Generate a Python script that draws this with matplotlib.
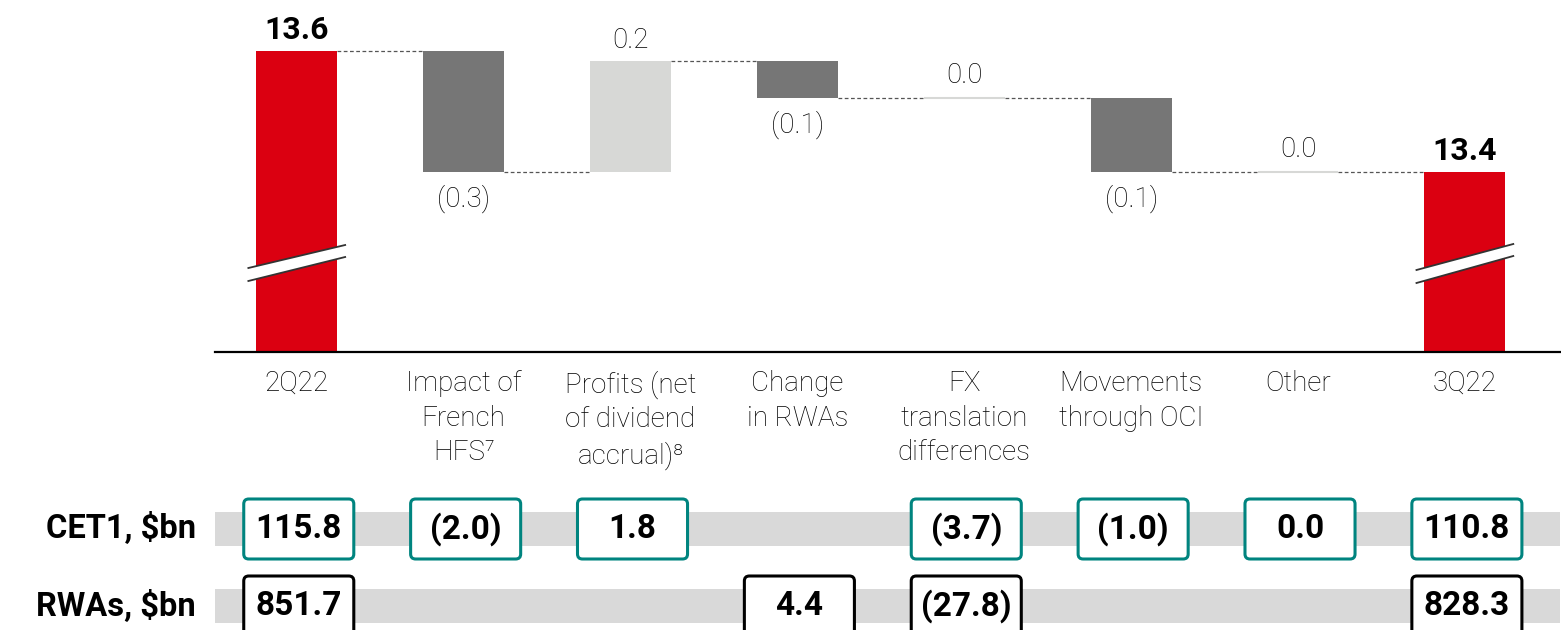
import matplotlib.pyplot as plt
from matplotlib.patches import FancyBboxPatch, Polygon, Rectangle

# waterfall data (CET1 ratio, %)
categories = ["2Q22", "Impact of\nFrench\nHFS\u2077", "Profits (net\nof dividend\naccrual)\u2078",
              "Change\nin RWAs", "FX\ntranslation\ndifferences", "Movements\nthrough OCI",
              "Other", "3Q22"]
value_labels = ["13.6", "(0.3)", "0.2", "(0.1)", "0.0", "(0.1)", "0.0", "13.4"]
start_value = 13.6
# step heights as drawn in the picture
steps = [-0.3025, 0.2775, -0.0925, 0.0, -0.185, 0.0]

# table rows
row_labels = ["CET1, $bn", "RWAs, $bn"]
cet1 = ["115.8", "(2.0)", "1.8", None, "(3.7)", "(1.0)", "0.0", "110.8"]
rwas = ["851.7", None, None, "4.4", "(27.8)", None, None, "828.3"]

RED = "#DB0011"
DARK = "#767676"
LIGHT = "#D7D8D6"
TEAL = "#00847F"
BAND = "#D9D9D9"

plt.rcParams['font.family'] = ['Roboto', 'DejaVu Sans']

W, H = 1561, 630
fig = plt.figure(figsize=(W / 100, H / 100), dpi=100)

# main waterfall axes
ax = fig.add_axes([215 / W, (H - 352) / H, (1560 - 215) / W, 352 / H])
px_per_unit = 400.0
ax.set_ylim(start_value - 301 / px_per_unit, start_value + 51 / px_per_unit)
ax.set_xlim(-0.49, 7.57)
bw = 0.485
LBL = dict(fontsize=20, fontweight="light", color="black")
TOT = dict(fontsize=23, fontweight="bold", color="black")

level = start_value
ymin = ax.get_ylim()[0]
ax.bar(0, start_value - ymin, bottom=ymin, width=bw, color=RED)
ax.annotate(value_labels[0], (0, start_value), xytext=(0, 15), textcoords="offset points",
            ha="center", va="center", **TOT)
for i, d in enumerate(steps, start=1):
    new = level + d
    if d == 0:
        ax.hlines(level, i - bw / 2, i + bw / 2, color=LIGHT, lw=1.5)
        ax.annotate(value_labels[i], (i, level), xytext=(0, 16.5), textcoords="offset points",
                    ha="center", va="center", **LBL)
    else:
        col = LIGHT if d > 0 else DARK
        ax.bar(i, abs(d), bottom=min(level, new), width=bw, color=col)
        off = 15 if d > 0 else -19.5
        ax.annotate(value_labels[i], (i, new), xytext=(0, off), textcoords="offset points",
                    ha="center", va="center", **LBL)
    # connector from previous bar
    ax.plot([i - 1 + bw / 2, i - bw / 2], [level, level], color="#555555", lw=0.9,
            linestyle=(0, (3, 2)))
    level = new

n = len(categories) - 1
ax.plot([n - 1 + bw / 2, n - bw / 2], [level, level], color="#555555", lw=0.9,
        linestyle=(0, (3, 2)))
ax.bar(n, level - ymin, bottom=ymin, width=bw, color=RED)
ax.annotate(value_labels[-1], (n, level), xytext=(0, 15), textcoords="offset points",
            ha="center", va="center", **TOT)

# axis break marks on the red bars
def y_of(px):
    return start_value + 51 / px_per_unit - px / px_per_unit

for xc, (yl, yr) in [(0, (268, 245)), (n, (270, 244))]:
    x0, x1 = xc - 0.29, xc + 0.29
    poly = Polygon([(x0, y_of(yl)), (x1, y_of(yr)), (x1, y_of(yr + 12)), (x0, y_of(yl + 13))],
                   closed=True, facecolor="white", edgecolor="none", zorder=3)
    ax.add_patch(poly)
    ax.plot([x0, x1], [y_of(yl), y_of(yr)], color="#333333", lw=1.3, zorder=4)
    ax.plot([x0, x1], [y_of(yl + 13), y_of(yr + 12)], color="#333333", lw=1.3, zorder=4)

for s in ["top", "left", "right"]:
    ax.spines[s].set_visible(False)
ax.spines["bottom"].set_linewidth(1.6)
ax.set_yticks([])
ax.set_xticks(range(len(categories)))
ax.set_xticklabels(categories, linespacing=1.36, **LBL)
ax.tick_params(axis="x", length=0, pad=13)

# table axes
tab = fig.add_axes([215 / W, 0, (1560 - 215) / W, 150 / H])
tab.set_xlim(ax.get_xlim())
row_px = 77.0
tab.set_ylim((630 - 529) / row_px, (480 - 529) / row_px)
tab.axis("off")

for r, (rl, vals, ec) in enumerate(zip(row_labels, [cet1, rwas], [TEAL, "black"])):
    tab.add_patch(Rectangle((-0.49, r - 17 / row_px), 8.1, 34 / row_px, facecolor=BAND,
                            edgecolor="none", zorder=1))
    tab.text(-0.49 - 19 / 166.8, r, rl, ha="right", va="center", fontsize=23.5,
             fontweight="bold", clip_on=False)
    for i, v in enumerate(vals):
        if v is None:
            continue
        bwid, bh = 110 / 166.8, 60 / row_px
        box = FancyBboxPatch((i + 0.012 - bwid / 2, r - bh / 2), bwid, bh,
                             boxstyle="round,pad=0,rounding_size=0.03",
                             mutation_aspect=166.8 / row_px,
                             facecolor="white", edgecolor=ec, lw=2.2, zorder=2, clip_on=False)
        tab.add_patch(box)
        tab.text(i + 0.012, r, v, ha="center", va="center", fontsize=24, fontweight="bold",
                 zorder=3)

fig.savefig("out.png", dpi=100)
